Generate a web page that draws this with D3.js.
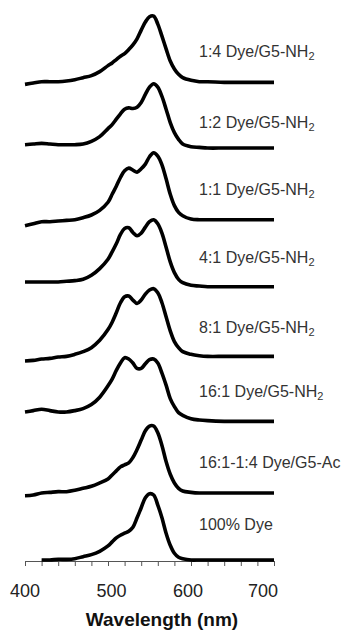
<!DOCTYPE html>
<html>
<head>
<meta charset="utf-8">
<script src="https://cdn.jsdelivr.net/npm/d3@7"></script>
<style>
  html, body { margin: 0; padding: 0; background: #fff; }
  svg { display: block; }
  text { font-family: "Liberation Sans", Arial, Helvetica, sans-serif; }
</style>
</head>
<body>
<svg id="chart" width="342" height="631"></svg>
<script>
// ---------- data ----------
const wavelengths = [400,410,420,430,440,450,460,470,480,490,
  500,505,510,515,520,525,530,535,540,545,550,555,560,565,570,575,580,585,590,
  600,610,620,640,660,680,700];

const seriesNames = ["1:4 Dye/G5-NH", "1:2 Dye/G5-NH", "1:1 Dye/G5-NH", "4:1 Dye/G5-NH",
  "8:1 Dye/G5-NH", "16:1 Dye/G5-NH", "16:1-1:4 Dye/G5-Ac", "100% Dye"];
const seriesSubscripts = ["2", "2", "2", "2", "2", "2", "", ""];

// vertical stacking offsets (absorbance units)
const offsets = [7.13, 6.15, 5.08, 4.08, 3.04, 2.07, 1.0, 0];

const abs_1_4 = [-0.03,-0.01,0.01,0.01,0.01,0.02,0.04,0.07,0.10,0.16,
  0.25,0.29,0.34,0.39,0.43,0.49,0.56,0.65,0.78,0.90,0.98,0.99,0.87,0.69,0.50,0.32,0.20,0.12,0.07,
  0.03,0.01,0.01,0,0,0,0];
const abs_1_2 = [0.05,0.06,0.07,0.06,0.05,0.05,0.05,0.06,0.10,0.17,
  0.29,0.35,0.43,0.51,0.58,0.60,0.59,0.61,0.68,0.80,0.91,0.96,0.91,0.77,0.58,0.38,0.23,0.13,0.06,
  0.02,0.01,0,0,0,0,0];
const abs_1_1 = [-0.09,-0.06,-0.03,-0.03,-0.02,-0.01,0.00,0.03,0.07,0.14,
  0.26,0.38,0.50,0.63,0.73,0.77,0.74,0.71,0.76,0.83,0.94,1.00,0.95,0.82,0.61,0.38,0.21,0.11,0.06,
  0.01,0,0,0,0,0,0];
const abs_4_1 = [0.07,0.07,0.07,0.07,0.07,0.08,0.09,0.11,0.17,0.27,
  0.41,0.52,0.64,0.78,0.87,0.88,0.81,0.76,0.80,0.89,0.97,1.00,0.94,0.80,0.59,0.37,0.21,0.11,0.06,
  0.02,0.01,0,0,0,0,0];
const abs_8_1 = [-0.07,-0.06,-0.04,-0.03,-0.01,0,0.03,0.07,0.13,0.24,
  0.40,0.51,0.65,0.80,0.89,0.90,0.84,0.79,0.84,0.93,0.99,1.01,0.95,0.80,0.59,0.38,0.22,0.13,0.07,
  0.03,0.01,0,0,0,0,0];
const abs_16_1 = [0.14,0.16,0.18,0.16,0.14,0.14,0.16,0.19,0.25,0.36,
  0.53,0.63,0.76,0.87,0.95,0.93,0.87,0.79,0.79,0.86,0.92,0.93,0.87,0.72,0.54,0.34,0.22,0.13,0.09,
  0.04,0.02,0.01,0,0,0,0];
const abs_ac = [-0.04,-0.03,0.00,0.01,0.02,0.02,0.04,0.07,0.10,0.15,
  0.21,0.27,0.33,0.39,0.42,0.45,0.53,0.65,0.79,0.93,1.00,1.00,0.90,0.71,0.47,0.28,0.15,0.07,0.03,
  0.01,0,0,0,0,0,0];
const abs_dye = [null,null,0,0,0.01,0.01,0.02,0.05,0.08,0.13,
  0.21,0.27,0.33,0.37,0.40,0.43,0.49,0.63,0.78,0.93,0.99,0.97,0.82,0.63,0.40,0.22,0.10,0.04,0.02,
  0,0,0,0,0,0,0];

const seriesValues = [abs_1_4, abs_1_2, abs_1_1, abs_4_1, abs_8_1, abs_16_1, abs_ac, abs_dye];

const xTickValues = d3.range(400, 701, 20);
const xLabelValues = [400, 500, 600, 700];
const xTitle = "Wavelength (nm)";

// ---------- layout ----------
const svg = d3.select("#chart");
const x = d3.scaleLinear().domain([400, 700]).range([25, 274]);
const y = d3.scaleLinear().domain([0, 8.3]).range([560, 4]);
const labelLift = [25.5, 19.7, 24.7, 23.7, 23.5, 24, 25.3, 30];
const tickLabelNudge = [0, 3.5, -3, -11];

// axis
const axis = d3.axisBottom(x).tickValues(xTickValues).tickSize(5).tickFormat("");
const gAxis = svg.append("g").attr("transform", `translate(0,${y(0) + 1})`).call(axis);
gAxis.select(".domain").attr("stroke", "#555").attr("stroke-width", 1);
gAxis.selectAll(".tick line").attr("stroke", "#555").attr("stroke-width", 1);

svg.append("g").selectAll("text").data(xLabelValues).join("text")
  .attr("x", (d, i) => x(d) + tickLabelNudge[i])
  .attr("y", 597)
  .attr("text-anchor", "middle")
  .attr("font-size", 18)
  .attr("fill", "#222")
  .text(d => d);

svg.append("text")
  .attr("x", 162).attr("y", 626)
  .attr("text-anchor", "middle")
  .attr("font-size", 19)
  .attr("font-weight", "bold")
  .attr("fill", "#111")
  .text(xTitle);

// curves
const line = d3.line()
  .defined(d => d.v !== null)
  .x(d => x(d.w))
  .y(d => y(d.v + d.o))
  .curve(d3.curveCatmullRom.alpha(0.5));

seriesValues.forEach((vals, i) => {
  const pts = wavelengths.map((w, k) => ({ w, v: vals[k], o: offsets[i] }));
  svg.append("path")
    .datum(pts)
    .attr("d", line)
    .attr("fill", "none")
    .attr("stroke", "#000")
    .attr("stroke-width", 3.6)
    .attr("stroke-linejoin", "round")
    .attr("stroke-linecap", "butt");
});

// labels
seriesNames.forEach((name, i) => {
  const t = svg.append("text")
    .attr("x", 199)
    .attr("y", y(offsets[i]) - labelLift[i])
    .attr("font-size", 16)
    .attr("fill", "#333");
  t.append("tspan").text(name);
  if (seriesSubscripts[i]) {
    t.append("tspan").attr("font-size", 11).attr("dy", 3).text(seriesSubscripts[i]);
  }
});
</script>
</body>
</html>
